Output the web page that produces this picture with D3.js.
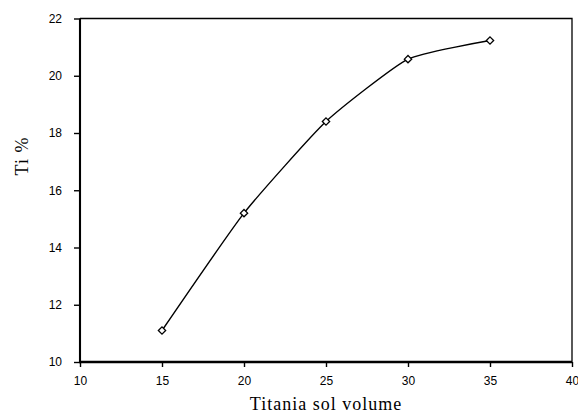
<!DOCTYPE html>
<html>
<head>
<meta charset="utf-8">
<script src="https://cdn.jsdelivr.net/npm/d3@7"></script>
<style>
  html, body { margin: 0; padding: 0; background: #fff; }
  svg { display: block; }
</style>
</head>
<body>
<svg id="chart" width="578" height="413"></svg>
<script>
// Titania sol volume vs. Ti content
const solVolume = [15, 20, 25, 30, 35];
const tiPercent = [11.1, 15.2, 18.4, 20.58, 21.23];
const xTicks = [10, 15, 20, 25, 30, 35, 40];
const yTicks = [10, 12, 14, 16, 18, 20, 22];

const svg = d3.select("#chart");
const plotLeft = 80, plotRight = 572, plotTop = 18.5, plotBottom = 362;

const x = d3.scaleLinear().domain([10, 40]).range([plotLeft, plotRight]);
const y = d3.scaleLinear().domain([10, 22]).range([plotBottom, plotTop]);

// top and right frame
svg.append("path")
  .attr("d", `M${plotLeft},${plotTop}H${plotRight}V${plotBottom}`)
  .attr("fill", "none").attr("stroke", "#000").attr("stroke-width", 1.3);

// axes
const xAxis = svg.append("g")
  .attr("transform", `translate(0,${plotBottom})`)
  .call(d3.axisBottom(x).tickValues(xTicks).tickSize(5).tickPadding(9.5));
const yAxis = svg.append("g")
  .attr("transform", `translate(${plotLeft},0)`)
  .call(d3.axisLeft(y).tickValues(yTicks).tickSize(6).tickPadding(12));

xAxis.select(".domain").attr("d", `M${plotLeft - 1},0H${plotRight}`).attr("stroke-width", 2.6);
yAxis.select(".domain").attr("d", `M0,${plotTop}V${plotBottom}`).attr("stroke-width", 2.1);

[xAxis, yAxis].forEach(g => {
  g.select(".domain").attr("stroke", "#000");
  g.selectAll(".tick line").attr("stroke", "#000").attr("stroke-width", 1.4);
  g.selectAll(".tick text")
    .attr("fill", "#000")
    .style("font-family", "'Liberation Sans', Arial, sans-serif")
    .style("font-size", "12px");
});

// data line (smoothed)
const line = d3.line()
  .x((d, i) => x(solVolume[i]))
  .y(d => y(d))
  .curve(d3.curveCardinal.tension(0.5));

svg.append("path")
  .datum(tiPercent)
  .attr("d", line)
  .attr("fill", "none")
  .attr("stroke", "#000")
  .attr("stroke-width", 1.4);

// diamond markers
const diamond = d3.symbol().type(d3.symbolDiamond2).size(34);
svg.selectAll(".marker")
  .data(tiPercent)
  .join("path")
  .attr("class", "marker")
  .attr("transform", (d, i) => `translate(${x(solVolume[i])},${y(d)})`)
  .attr("d", diamond)
  .attr("fill", "#fff")
  .attr("stroke", "#000")
  .attr("stroke-width", 1.3);

// axis titles
svg.append("text")
  .attr("x", 326)
  .attr("y", 410)
  .attr("text-anchor", "middle")
  .style("font-family", "'Liberation Serif', 'Times New Roman', serif")
  .style("font-size", "18px")
  .style("letter-spacing", "1px")
  .text("Titania sol volume");

svg.append("text")
  .attr("transform", "translate(28,156) rotate(-90)")
  .attr("text-anchor", "middle")
  .style("font-family", "'Liberation Serif', 'Times New Roman', serif")
  .style("font-size", "18px")
  .style("letter-spacing", "1px")
  .text("Ti %");
</script>
</body>
</html>
